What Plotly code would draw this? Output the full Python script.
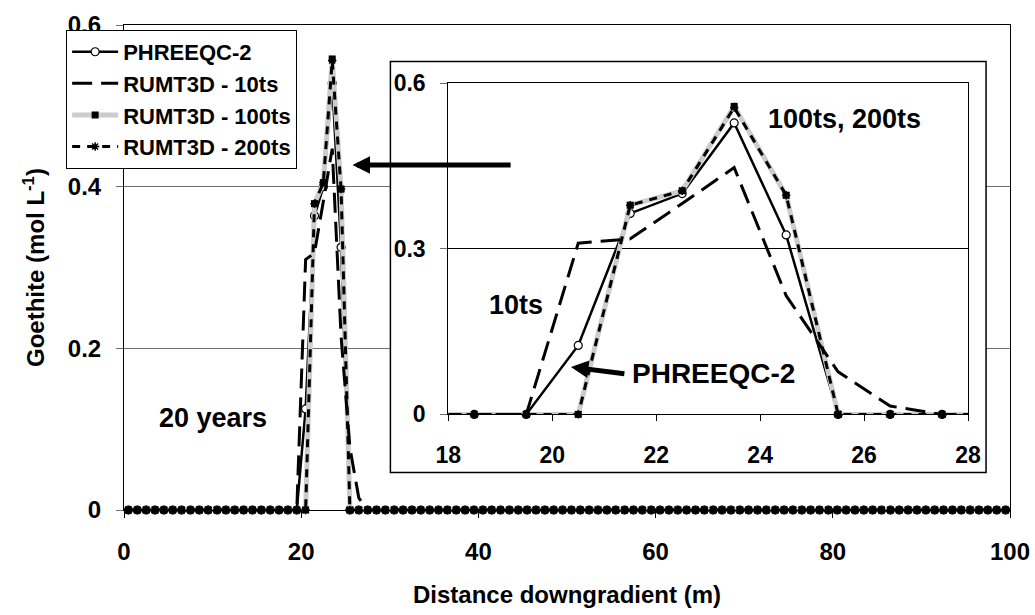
import plotly.graph_objects as go

# ---------------- data ----------------
distance_m = [i + 0.5 for i in range(100)]          # model cell centres, 0.5 ... 99.5 m
peak_x = [19.5, 20.5, 21.5, 22.5, 23.5, 24.5, 25.5, 26.5, 27.5]
phreeqc_peak = [0.0, 0.125, 0.364, 0.400, 0.528, 0.325, 0.0, 0.0, 0.0]
rumt_10ts_peak = [0.0, 0.310, 0.318, 0.382, 0.447, 0.215, 0.077, 0.015, 0.0]
rumt_100ts_peak = [0.0, 0.0, 0.379, 0.405, 0.558, 0.397, 0.0, 0.0, 0.0]
rumt_200ts_peak = [0.0, 0.0, 0.379, 0.405, 0.556, 0.397, 0.0, 0.0, 0.0]
series_names = ["PHREEQC-2", "RUMT3D - 10ts", "RUMT3D - 100ts", "RUMT3D - 200ts"]

main_x_ticks = [0, 20, 40, 60, 80, 100]
main_y_ticks = [0, 0.2, 0.4, 0.6]
main_y_labels = ["0", "0.2", "0.4", "0.6"]
inset_x_ticks = [18, 20, 22, 24, 26, 28]
inset_y_ticks = [0, 0.3, 0.6]
inset_y_labels = ["0", "0.3", "0.6"]


def full(peak):
    lut = dict(zip(peak_x, peak))
    return [lut.get(x, 0.0) for x in distance_m]


values = {
    "PHREEQC-2": full(phreeqc_peak),
    "RUMT3D - 10ts": full(rumt_10ts_peak),
    "RUMT3D - 100ts": full(rumt_100ts_peak),
    "RUMT3D - 200ts": full(rumt_200ts_peak),
}

# ---------------- styles ----------------
FONT = "Liberation Sans, Arial, sans-serif"
styles = {
    "PHREEQC-2": dict(line=dict(color="black", width=2.5),
                      marker=dict(symbol="circle", size=8, color="white",
                                  line=dict(color="black", width=1.2)), mode="lines+markers", rank=1),
    "RUMT3D - 10ts": dict(line=dict(color="black", width=3, dash="20px,9px"),
                          marker=None, mode="lines", rank=2),
    "RUMT3D - 100ts": dict(line=dict(color="#cccccc", width=5),
                           marker=dict(symbol="square", size=7, color="black"), mode="lines+markers", rank=3),
    "RUMT3D - 200ts": dict(line=dict(color="black", width=3, dash="8px,7px"),
                           marker=dict(symbol="asterisk-open", size=7, color="black",
                                       line=dict(color="black", width=1.5)), mode="lines+markers", rank=4),
}
draw_order = ["PHREEQC-2", "RUMT3D - 100ts", "RUMT3D - 200ts", "RUMT3D - 10ts"]

fig = go.Figure()

# main chart
for name in draw_order:
    st = styles[name]
    kw = dict(x=distance_m, y=values[name], name=name, mode=st["mode"], line=st["line"],
              cliponaxis=False, legendrank=st["rank"], legendgroup=name, xaxis="x", yaxis="y")
    if st["marker"]:
        kw["marker"] = st["marker"]
    fig.add_trace(go.Scatter(**kw))

# inset: lines (clipped) + markers inside range
for name in draw_order:
    st = styles[name]
    fig.add_trace(go.Scatter(x=distance_m, y=values[name], mode="lines", line=st["line"],
                             showlegend=False, xaxis="x2", yaxis="y2", hoverinfo="skip"))
    if st["marker"]:
        xs = [x for x in distance_m if 18 <= x <= 28]
        ys = [v for x, v in zip(distance_m, values[name]) if 18 <= x <= 28]
        fig.add_trace(go.Scatter(x=xs, y=ys, mode="markers", marker=st["marker"], cliponaxis=False,
                                 showlegend=False, xaxis="x2", yaxis="y2"))

# ---------------- layout geometry ----------------
W, H = 1035, 615
PL, PR, PT, PB = 124, 1012, 18, 510                 # main plot area (px)
IL, IR, IT, IB = 449, 970, 77, 413                  # inset plot area (px)
OL, OR_, OT, OB = 391, 988, 55, 472                 # inset outer frame (px)
pw, ph = PR - PL, PB - PT


def mx(px):
    return (px - PL) / pw * 100


def my(py):
    return (PB - py) / ph * 0.6


def ix(px):
    return 18 + (px - IL) / (IR - IL) * 10


def iy(py):
    return (IB - py) / (IB - IT) * 0.6


tick_font = dict(family=FONT, size=24, color="black", weight="bold")
inset_tick_font = dict(family=FONT, size=23, color="black", weight="bold")

fig.update_layout(
    width=W, height=H, autosize=False,
    margin=dict(l=PL, r=W - PR, t=PT, b=H - PB),
    paper_bgcolor="white", plot_bgcolor="white",
    font=dict(family=FONT, color="black"),
    xaxis=dict(range=[0, 100], tickvals=main_x_ticks, showgrid=False, zeroline=False,
               showline=True, linecolor="black", linewidth=1, mirror=True,
               ticks="outside", ticklen=7, tickcolor="black", tickfont=tick_font,
               ticklabelstandoff=13, automargin=False,
               title=dict(text="Distance downgradient (m)", font=dict(family=FONT, size=24, weight="bold"),
                          standoff=22)),
    yaxis=dict(range=[0, 0.6], tickvals=main_y_ticks, ticktext=main_y_labels, showgrid=True,
               gridcolor="#6e6e6e", gridwidth=1, zeroline=False,
               showline=True, linecolor="black", linewidth=1, mirror=True,
               ticks="outside", ticklen=7, tickcolor="#6e6e6e", tickfont=tick_font,
               ticklabelstandoff=10, automargin=False,
               title=dict(text="Goethite (mol L<sup>-1</sup>)", font=dict(family=FONT, size=24, weight="bold"),
                          standoff=16)),
    xaxis2=dict(domain=[(IL - PL) / pw, (IR - PL) / pw], anchor="y2", range=[18, 28],
                tickvals=inset_x_ticks, showgrid=False, zeroline=False,
                showline=True, linecolor="black", linewidth=1, mirror=True,
                ticks="outside", ticklen=6, tickcolor="black", tickfont=inset_tick_font,
                ticklabelstandoff=14),
    yaxis2=dict(domain=[(PB - IB) / ph, (PB - IT) / ph], anchor="x2", range=[0, 0.6],
                tickvals=inset_y_ticks, ticktext=inset_y_labels, showgrid=True,
                gridcolor="black", gridwidth=1, zeroline=False,
                showline=True, linecolor="black", linewidth=1, mirror=True,
                ticks="outside", ticklen=7, tickcolor="#6e6e6e", tickfont=inset_tick_font,
                ticklabelstandoff=10),
    legend=dict(x=(66 - PL) / pw, y=(PB - 23) / ph, xanchor="left", yanchor="top",
                bgcolor="white", bordercolor="black", borderwidth=1,
                font=dict(family=FONT, size=22, color="black", weight="bold"),
                itemwidth=46, tracegroupgap=0, traceorder="grouped"),
    showlegend=True,
    shapes=[dict(type="rect", xref="x", yref="y", layer="between",
                 x0=mx(OL), x1=mx(OR_), y0=my(OB), y1=my(OT),
                 fillcolor="white", line=dict(color="black", width=1.5))],
)

ann_font = dict(family=FONT, size=27, color="black", weight="bold")
fig.add_annotation(x=mx(213), y=my(417), xref="x", yref="y", text="20 years",
                   showarrow=False, font=ann_font)
fig.add_annotation(x=mx(353), y=my(160), ax=mx(513), ay=my(160), xref="x", yref="y",
                   axref="x", ayref="y", text="", showarrow=True, arrowhead=2,
                   arrowsize=0.7, arrowwidth=5, arrowcolor="black")
fig.add_annotation(x=ix(846), y=iy(113), xref="x2", yref="y2", text="100ts, 200ts",
                   showarrow=False, font=ann_font)
fig.add_annotation(x=ix(517), y=iy(302), xref="x2", yref="y2", text="10ts",
                   showarrow=False, font=ann_font)
fig.add_annotation(x=ix(715), y=iy(372), xref="x2", yref="y2", text="PHREEQC-2",
                   showarrow=False, font=dict(family=FONT, size=28, color="black", weight="bold"))
fig.add_annotation(x=ix(572), y=iy(365), ax=ix(627), ay=iy(372), xref="x2", yref="y2",
                   axref="x2", ayref="y2", text="", showarrow=True, arrowhead=2,
                   arrowsize=0.7, arrowwidth=5, arrowcolor="black")

fig.write_html("out.html")
